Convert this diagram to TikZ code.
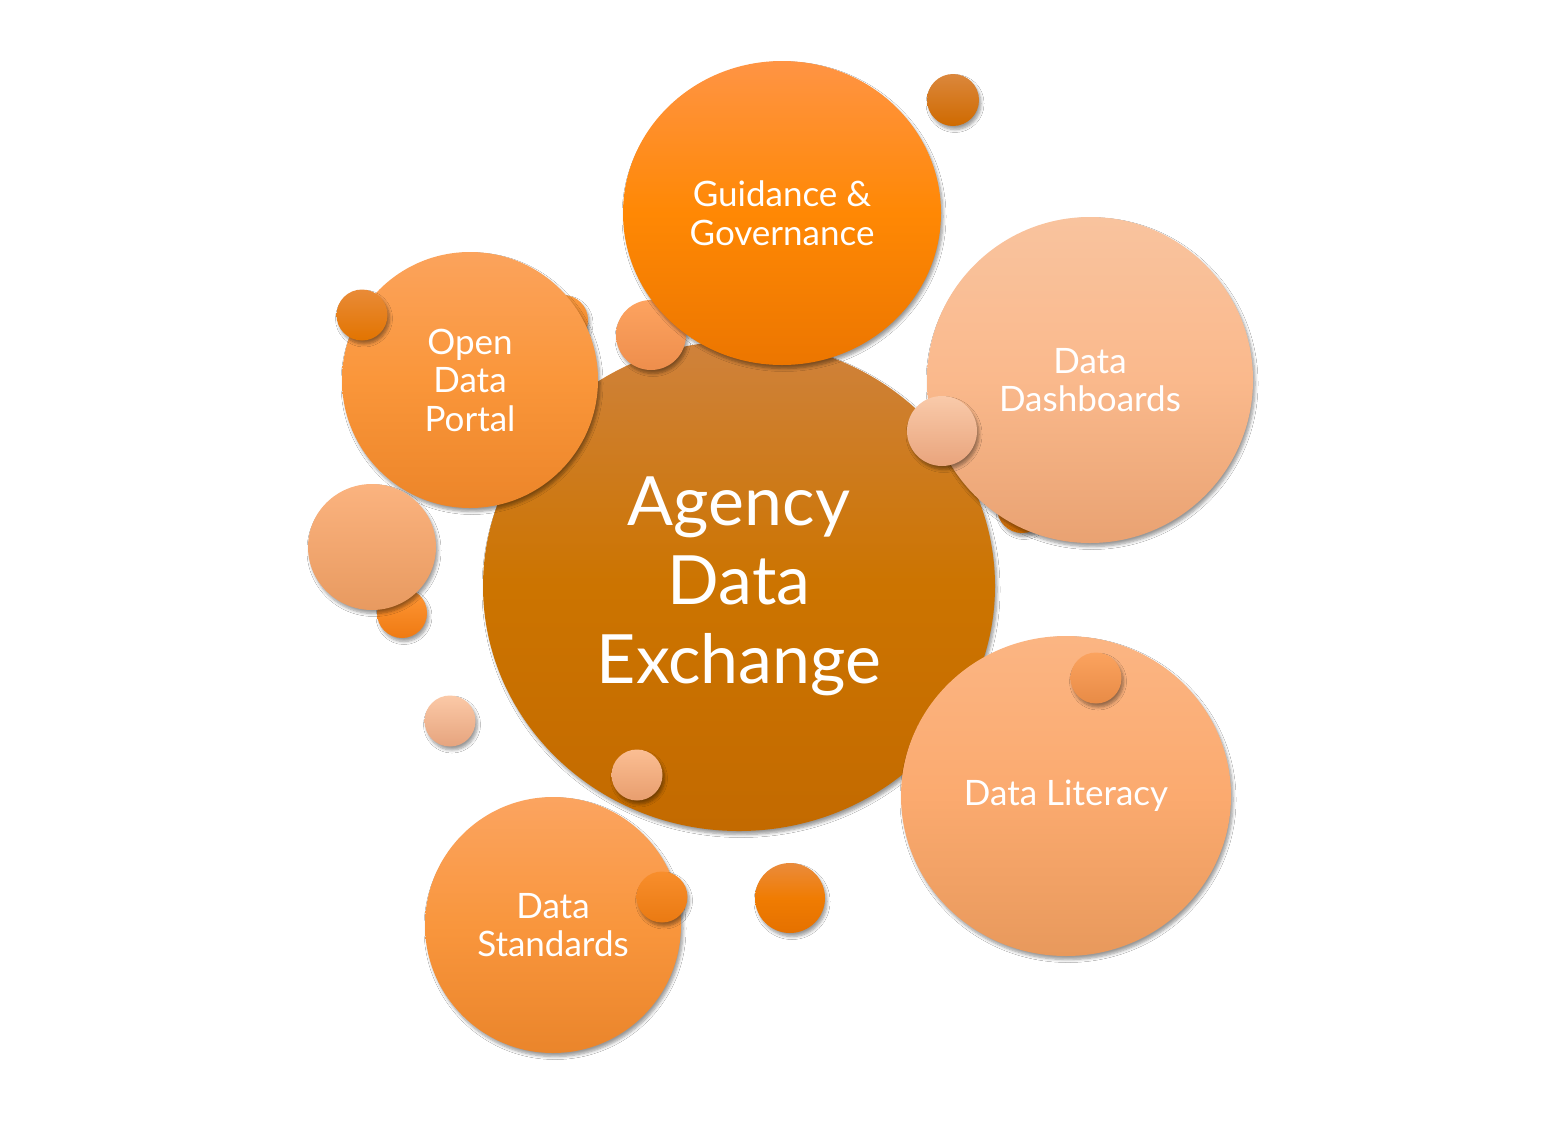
\documentclass[tikz,border=0pt]{standalone}
\usepackage{fontspec}
\setmainfont{Lato}
\usetikzlibrary{shapes.geometric,shadows.blur}
\definecolor{cTop}{HTML}{CF823C}\definecolor{cMid}{HTML}{CC7400}\definecolor{cBot}{HTML}{C36A00}
\definecolor{gTop}{HTML}{FF9444}\definecolor{gMid}{HTML}{FF8804}\definecolor{gBot}{HTML}{EC7600}
\definecolor{pTop}{HTML}{FBA35C}\definecolor{pMid}{HTML}{FA963A}\definecolor{pBot}{HTML}{EC8529}
\definecolor{dTop}{HTML}{F9C39E}\definecolor{dMid}{HTML}{FAB98C}\definecolor{dBot}{HTML}{E9A272}
\definecolor{lTop}{HTML}{FBB583}\definecolor{lMid}{HTML}{FBAA6F}\definecolor{lBot}{HTML}{E8995C}
\definecolor{sTop}{HTML}{FBA460}\definecolor{sMid}{HTML}{F9963D}\definecolor{sBot}{HTML}{EA852B}
\definecolor{hpT}{HTML}{F99A40}\definecolor{hpB}{HTML}{EE8020}
\definecolor{hdT}{HTML}{D8843A}\definecolor{hdB}{HTML}{D06C00}
\definecolor{soT}{HTML}{FF9838}\definecolor{soB}{HTML}{EF7A12}
\definecolor{pgT}{HTML}{FDA360}\definecolor{pgB}{HTML}{EE8E4C}
\definecolor{sdaT}{HTML}{E98B38}\definecolor{sdaB}{HTML}{E27400}
\definecolor{lpaT}{HTML}{F9CAAA}\definecolor{lpaB}{HTML}{E9A47C}
\definecolor{bpT}{HTML}{FBB37F}\definecolor{bpB}{HTML}{E89A60}
\definecolor{lpbT}{HTML}{FBC9A7}\definecolor{lpbB}{HTML}{E6A47E}
\definecolor{lpcT}{HTML}{FBBE93}\definecolor{lpcB}{HTML}{E89E6E}
\definecolor{loT}{HTML}{FBA35F}\definecolor{loB}{HTML}{E88B46}
\definecolor{sobT}{HTML}{F88E2C}\definecolor{sobB}{HTML}{EA7A12}
\definecolor{socT}{HTML}{EA8B3C}\definecolor{socM}{HTML}{F07C02}\definecolor{socB}{HTML}{E57100}
\definecolor{sdbT}{HTML}{DB873C}\definecolor{sdbB}{HTML}{CF6A00}
\begin{document}
\begin{tikzpicture}[x=1pt,y=-1pt,
  bub/.style={ellipse, inner sep=0pt, draw=none, text=white, align=center,
    blur shadow={shadow xshift=2pt, shadow yshift=-3.5pt, shadow blur radius=3pt, shadow blur steps=6, shadow opacity=40}},
  sz/.style 2 args={minimum width=#1, minimum height=#2},
  dia/.style={minimum width=#1, minimum height=#1},
  grad/.style 2 args={top color=#1, bottom color=#2},
  mfont/.style={font=\fontsize{35}{38.5}\selectfont},
  bigfont/.style={font=\fontsize{68}{79}\selectfont}]
\fill[white] (0,0) rectangle (1541,1125);
\useasboundingbox (0,0) rectangle (1541,1125);
% hidden small bubbles
\node[bub, dia=50, grad={hpT}{hpB}] (hp) at (563,320) {};
\node[bub, dia=50, grad={hdT}{hdB}] (hd) at (1022,508) {};
\node[bub, dia=50, grad={soT}{soB}] (so) at (402,613) {};
% central
\node[bub, sz={512}{490}, top color=cTop, bottom color=cBot, middle color=cMid, bigfont] (ade) at (739,586) {Agency\\Data\\Exchange};
\node[bub, dia=70, grad={pgT}{pgB}] (pg) at (651,335) {};
\node[bub, sz={318}{304}, top color=gTop, bottom color=gBot, middle color=gMid, mfont] (gg) at (782,213) {Guidance \&\\Governance};
\node[bub, dia=256, top color=pTop, bottom color=pBot, middle color=pMid, mfont] (odp) at (470,380) {Open\\Data\\Portal};
\node[bub, dia=51, grad={sdaT}{sdaB}] (sd1) at (362,315) {};
\node[bub, dia=326, top color=dTop, bottom color=dBot, middle color=dMid, mfont] (dd) at (1090,380) {Data\\Dashboards};
\node[bub, dia=70, grad={lpaT}{lpaB}] (lp1) at (942,431) {};
\node[bub, sz={128}{126}, grad={bpT}{bpB}] (bp) at (372,547) {};
\node[bub, dia=51, grad={lpbT}{lpbB}] (lp2) at (450,721) {};
\node[bub, dia=51, grad={lpcT}{lpcB}] (lp3) at (637,775) {};
\node[bub, sz={330}{320}, top color=lTop, bottom color=lBot, middle color=lMid, mfont] (dl) at (1066,796) {Data Literacy};
\node[bub, dia=51, grad={loT}{loB}] (lo1) at (1096,678) {};
\node[bub, dia=256, top color=sTop, bottom color=sBot, middle color=sMid, mfont] (ds) at (553,925) {Data\\Standards};
\node[bub, dia=51, grad={sobT}{sobB}] (so2) at (662,897) {};
\node[bub, dia=70, top color=socT, bottom color=socB, middle color=socM] (so3) at (790,898) {};
\node[bub, dia=52, grad={sdbT}{sdbB}] (sd2) at (953,100) {};
\end{tikzpicture}
\end{document}
